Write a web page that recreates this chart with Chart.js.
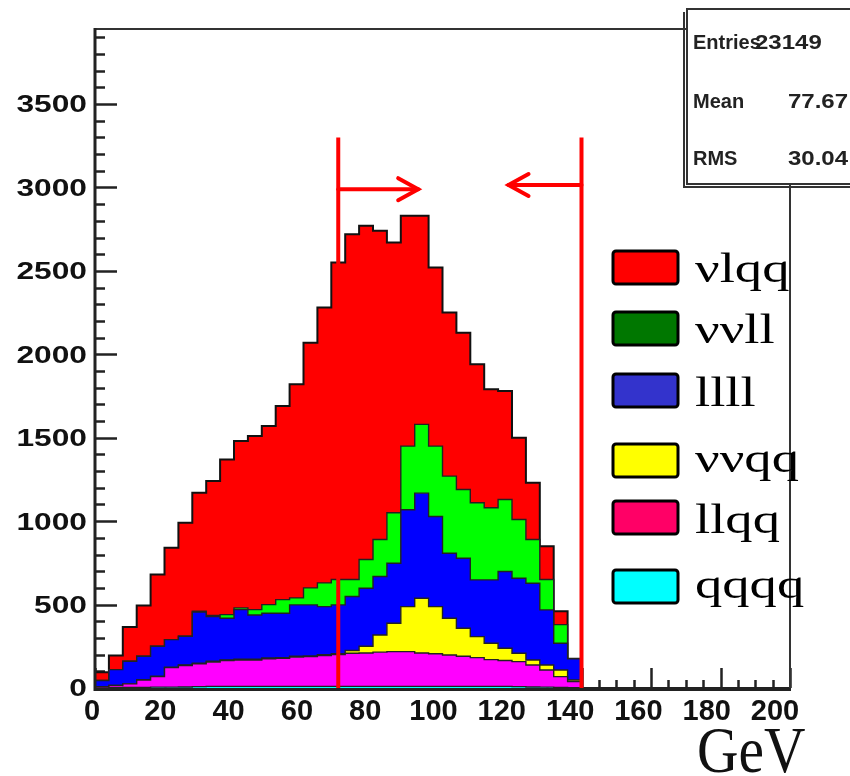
<!DOCTYPE html>
<html>
<head>
<meta charset="utf-8">
<script src="https://cdn.jsdelivr.net/npm/chart.js@4.4.1/dist/chart.umd.min.js"></script>
<style>
html,body{margin:0;padding:0;background:#fff;}
#wrap{position:relative;width:850px;height:776px;overflow:hidden;}
</style>
</head>
<body>
<div id="wrap"><canvas id="c" width="850" height="776"></canvas></div>
<script>
// ---- data (GeV bins of width 4, events per bin) ----
const binEdges = [0,4,8,12,16,20,24,28,32,36,40,44,48,52,56,60,64,68,72,76,80,84,88,92,96,100,104,108,112,116,120,124,128,132,136,140,144,148,152,156,160,164,168,172,176,180,184,188,192,196,200];
const qqqq = [0,2,3,4,5,5,6,8,10,10,10,10,10,10,10,10,10,10,10,10,10,10,10,10,10,10,10,10,10,10,8,6,5,3,2,0,0,0,0,0,0,0,0,0,0,0,0,0,0,0];
const llqq = [8,13,22,44,63,117,129,137,145,155,158,158,165,168,175,178,185,190,198,200,205,208,208,200,195,188,180,172,160,155,150,132,103,65,36,0,0,0,0,0,0,0,0,0,0,0,0,0,0,0];
const vvqq = [0,0,0,2,2,3,3,3,5,3,4,4,5,4,5,4,5,5,17,40,103,170,270,328,283,220,168,126,98,73,50,30,30,40,10,0,0,0,0,0,0,0,0,0,0,0,0,0,0,0];
const llll = [37,95,135,140,180,165,172,307,268,250,298,266,268,266,308,306,288,293,323,348,350,360,580,630,540,390,420,340,380,460,450,460,330,160,127,0,0,0,0,0,0,0,0,0,0,0,0,0,0,0];
const vvll = [0,0,0,0,0,0,0,5,7,22,10,32,52,82,42,102,142,152,102,172,222,302,382,412,422,462,412,462,432,432,352,262,182,112,0,0,0,0,0,0,0,0,0,0,0,0,0,0,0,0];
const vlqq = [50,85,205,305,430,550,680,710,805,930,1000,1040,1070,1160,1280,1470,1650,1900,2070,2000,1850,1620,1380,1250,1070,980,940,830,710,650,490,340,200,80,0,0,0,0,0,0,0,0,0,0,0,0,0,0,0];

const seriesNames  = ['qqqq','llqq','\u03bd\u03bdqq','llll','\u03bd\u03bdll','\u03bdlqq'];
const fillColors   = ['#00ffff','#ff00ff','#ffff00','#0000ff','#00ff00','#ff0000'];
const legendOrder  = ['\u03bdlqq','\u03bd\u03bdll','llll','\u03bd\u03bdqq','llqq','qqqq'];
const legendColors = ['#ff0000','#007700','#3333cc','#ffff00','#ff0066','#00ffff'];

const xTickLabels = ['0','20','40','60','80','100','120','140','160','180','200'];
const yTickLabels = ['0','500','1000','1500','2000','2500','3000','3500'];
const xMin = 0, xMax = 200, yMin = 0, yMax = 3950;

const cutLow = 70, cutHigh = 140, cutTop = 3300;
const arrowLowY = 2990, arrowLowTip = 93;
const arrowHighY = 3015, arrowHighTip = 119;

const statNames  = ['Entries','Mean','RMS'];
const statValues = ['23149','77.67','30.04'];
const xTitle = 'GeV';

// ---- build datasets ----
const allSeries = [qqqq, llqq, vvqq, llll, vvll, vlqq];
const datasets = allSeries.map((vals, k) => ({
  label: seriesNames[k],
  data: binEdges.map((x, i) => ({x: x, y: i < vals.length ? vals[i] : 0})),
  backgroundColor: fillColors[k],
  borderColor: k === 5 ? '#111' : '#222',
  borderWidth: k === 5 ? 2 : 1.4,
  fill: k === 0 ? 'origin' : '-1',
  stepped: 'before',
  pointRadius: 0,
  tension: 0
}));

const decor = {
  id: 'decor',
  beforeDatasetsDraw(chart) {
    const ctx = chart.ctx, xs = chart.scales.x, ys = chart.scales.y;
    const L = chart.chartArea.left, B = chart.chartArea.bottom;
    ctx.save();
    ctx.strokeStyle = '#222';
    ctx.lineWidth = 2.5;
    for (let v = 0; v <= 3900; v += 100) {
      const y = Math.round(ys.getPixelForValue(v)) + 0.5;
      const len = (v % 500 === 0) ? 22 : 10;
      ctx.beginPath(); ctx.moveTo(L, y); ctx.lineTo(L + len, y); ctx.stroke();
    }
    for (let v = 0; v <= 200; v += 5) {
      const x = Math.round(xs.getPixelForValue(v)) + 0.5;
      const len = (v % 20 === 0) ? 20 : 8;
      ctx.beginPath(); ctx.moveTo(x, B); ctx.lineTo(x, B - len); ctx.stroke();
    }
    ctx.restore();
  },
  afterDatasetsDraw(chart) {
    const ctx = chart.ctx, xs = chart.scales.x, ys = chart.scales.y;
    const {left: L, right: R, top: T, bottom: B} = chart.chartArea;
    ctx.save();
    // frame
    ctx.strokeStyle = '#333';
    ctx.lineWidth = 2;
    ctx.beginPath(); ctx.moveTo(L, T); ctx.lineTo(700, T); ctx.stroke();
    ctx.beginPath(); ctx.moveTo(R, 150); ctx.lineTo(R, B); ctx.stroke();
    ctx.lineWidth = 3;
    ctx.strokeStyle = '#222';
    ctx.beginPath(); ctx.moveTo(L, T - 1); ctx.lineTo(L, B + 1.5); ctx.lineTo(R + 1, B + 1.5); ctx.stroke();

    // cut lines and arrows
    ctx.strokeStyle = '#ff0000';
    ctx.lineWidth = 4;
    const xl = xs.getPixelForValue(cutLow), xh = xs.getPixelForValue(cutHigh);
    const yt = ys.getPixelForValue(cutTop);
    ctx.lineCap = 'butt';
    ctx.beginPath(); ctx.moveTo(xl, yt); ctx.lineTo(xl, B); ctx.stroke();
    ctx.beginPath(); ctx.moveTo(xh, yt); ctx.lineTo(xh, B); ctx.stroke();
    ctx.lineCap = 'round';
    const ya = ys.getPixelForValue(arrowLowY), tipL = xs.getPixelForValue(arrowLowTip);
    ctx.beginPath(); ctx.moveTo(xl, ya); ctx.lineTo(tipL, ya); ctx.stroke();
    ctx.beginPath(); ctx.moveTo(tipL - 20, ya - 11); ctx.lineTo(tipL, ya); ctx.lineTo(tipL - 20, ya + 11); ctx.stroke();
    const yb = ys.getPixelForValue(arrowHighY), tipH = xs.getPixelForValue(arrowHighTip);
    ctx.beginPath(); ctx.moveTo(xh, yb); ctx.lineTo(tipH, yb); ctx.stroke();
    ctx.beginPath(); ctx.moveTo(tipH + 20, yb - 11); ctx.lineTo(tipH, yb); ctx.lineTo(tipH + 20, yb + 11); ctx.stroke();
    ctx.lineCap = 'butt';

    // y tick labels
    ctx.fillStyle = '#111';
    ctx.font = 'bold 23px "Liberation Sans", Arial, sans-serif';
    ctx.textAlign = 'right';
    ctx.textBaseline = 'middle';
    yTickLabels.forEach(lbl => {
      const y = ys.getPixelForValue(Number(lbl));
      ctx.save(); ctx.translate(L - 8, y + 2); ctx.scale(1.38, 1); ctx.fillText(lbl, 0, 0); ctx.restore();
    });
    // x tick labels (label row is slightly compressed relative to the axis)
    ctx.font = 'bold 29px "Liberation Sans", Arial, sans-serif';
    ctx.textAlign = 'center';
    ctx.textBaseline = 'alphabetic';
    xTickLabels.forEach(lbl => {
      const v = Number(lbl);
      const x = xs.getPixelForValue(v);
      ctx.fillText(lbl, x - 3 - v * 0.06, 720);
    });
    // x title
    ctx.font = '66px "Liberation Serif", "Times New Roman", serif';
    ctx.textAlign = 'left';
    ctx.save(); ctx.translate(697, 772); ctx.scale(0.87, 1); ctx.fillText(xTitle, 0, 0); ctx.restore();

    // legend
    const legTops = [251, 312, 374, 444, 501, 570];
    const legBase = [282, 343, 406, 472, 533, 598];
    ctx.font = '42px "Liberation Serif", "Times New Roman", serif';
    legendOrder.forEach((name, i) => {
      ctx.fillStyle = legendColors[i];
      ctx.strokeStyle = '#000';
      ctx.lineWidth = 3;
      ctx.beginPath();
      ctx.roundRect(613, legTops[i], 65, 33, 3);
      ctx.fill(); ctx.stroke();
      ctx.fillStyle = '#000';
      ctx.save(); ctx.translate(695, legBase[i]); ctx.scale(1.3, 1); ctx.fillText(name, 0, 0); ctx.restore();
    });

    // stats box
    ctx.fillStyle = '#fff';
    ctx.strokeStyle = '#333';
    ctx.lineWidth = 2;
    ctx.beginPath(); ctx.moveTo(684, 12); ctx.lineTo(684, 187); ctx.lineTo(860, 187); ctx.stroke();
    ctx.fillRect(687, 9, 200, 175);
    ctx.strokeRect(687, 9, 200, 175);
    ctx.fillStyle = '#222';
    ctx.font = 'bold 20px "Liberation Sans", Arial, sans-serif';
    const statBase = [49, 108, 165];
    const statValX = [755, 788, 788];
    statNames.forEach((n, i) => {
      ctx.fillText(n, 693, statBase[i]);
      ctx.save(); ctx.translate(statValX[i], statBase[i]); ctx.scale(1.2, 1); ctx.fillText(statValues[i], 0, 0); ctx.restore();
    });
    ctx.restore();
  }
};

new Chart(document.getElementById('c'), {
  type: 'line',
  data: { datasets: datasets },
  options: {
    responsive: false,
    animation: false,
    events: [],
    layout: { padding: { left: 95, right: 60, top: 29, bottom: 88 } },
    scales: {
      x: { type: 'linear', min: xMin, max: xMax, display: false, offset: false },
      y: { type: 'linear', stacked: true, min: yMin, max: yMax, display: false }
    },
    plugins: { legend: { display: false }, tooltip: { enabled: false } }
  },
  plugins: [decor]
});
</script>
</body>
</html>
